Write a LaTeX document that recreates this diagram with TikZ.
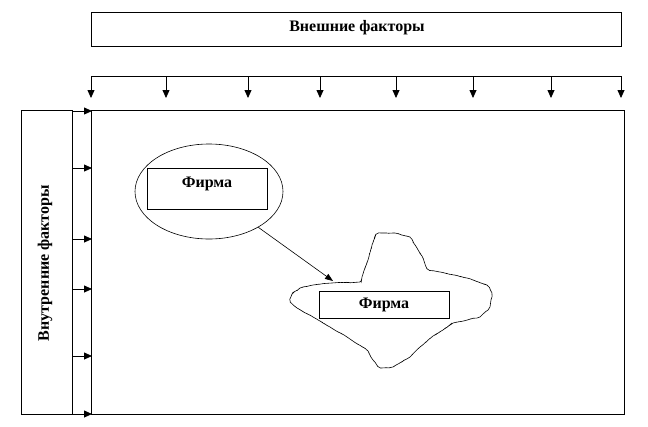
\documentclass[tikz,border=0pt]{standalone}
\usepackage{fontspec}
\setmainfont{Liberation Serif}
\usetikzlibrary{arrows.meta,decorations.pathmorphing,calc,shapes.geometric}
\begin{document}
\begin{tikzpicture}[x=1pt,y=-1pt,
  box/.style={draw,line width=0.9pt,inner sep=0pt},
  lbl/.style={font=\bfseries\fontsize{16}{18}\selectfont},
  arr/.style={line width=0.8pt,-{Triangle[length=8pt,width=7pt]}},
  thin/.style={line width=0.6pt}]
\useasboundingbox (0,0) rectangle (648,426);
% top box
\node[box,minimum width=530pt,minimum height=34pt] (top) at (356,29) {};
\node[lbl] (toptxt) at (357,28) {Внешние факторы};
% main rect
\node[box,minimum width=533pt,minimum height=304pt] (main) at (357.5,262.5) {};
% left bar
\node[box,minimum width=51pt,minimum height=304pt] (left) at (46.5,262.5) {};
\node[lbl,rotate=90] (lefttxt) at (45,263) {Внутренние факторы};
% top distribution line
\coordinate (h0) at (91,76);
\coordinate (h1) at (621,76);
\draw[line width=0.8pt] (h0) -- (h1);
\foreach \x in {91,166,248,320,396,473,551,621}{
  \coordinate (t\x) at (\x,76);
  \coordinate (b\x) at (\x,98);
  \draw[arr] (t\x) -- (b\x);
}
% left arrows
\foreach \y in {111,168,239,289,356,414}{
  \coordinate (l\y) at (72,\y);
  \coordinate (r\y) at (92,\y);
  \draw[arr] (l\y) -- (r\y);
}
% ellipse with firm
\node[draw,thin,ellipse,minimum width=148pt,minimum height=95pt,inner sep=0pt] (ell) at (209,191.5) {};
\node[box,line width=0.8pt,minimum width=120pt,minimum height=41pt] (f1) at (207,188.5) {};
\node[lbl] (f1t) at (207,184) {Фирма};
% blob
\begin{scope}[shift={(390,300)}]
\draw[thin,rounded corners=2pt,decorate,decoration={random steps,segment length=3pt,amplitude=0.4pt}]
  (-58,-17) -- (-30,-18) -- (-28,-23) -- (-22,-40) -- (-18,-55) -- (-14,-66)
  -- (-8,-67) -- (5,-67) -- (20,-63) -- (27,-52) -- (32,-44) -- (37,-31)
  -- (50,-28) -- (77,-22) -- (97,-15) -- (102,-7) -- (101,0) -- (100,7) -- (90,17)
  -- (63,23) -- (53,30) -- (43,36) -- (30,47) -- (20,57) -- (3,67) -- (-10,68)
  -- (-17,60) -- (-22,51) -- (-43,37) -- (-60,27) -- (-77,17) -- (-93,8) -- (-100,2)
  -- (-98,-6) -- (-90,-12) -- (-77,-15) -- cycle;
\end{scope}
\node[box,line width=0.8pt,minimum width=130pt,minimum height=27pt] (f2) at (384,304.5) {};
\node[lbl] (f2t) at (384,305) {Фирма};
% connector
\coordinate (blobtip) at (333,281);
\draw[thin,-{Triangle[length=8pt,width=6pt]}] (ell.-36) -- (blobtip);
\end{tikzpicture}
\end{document}
